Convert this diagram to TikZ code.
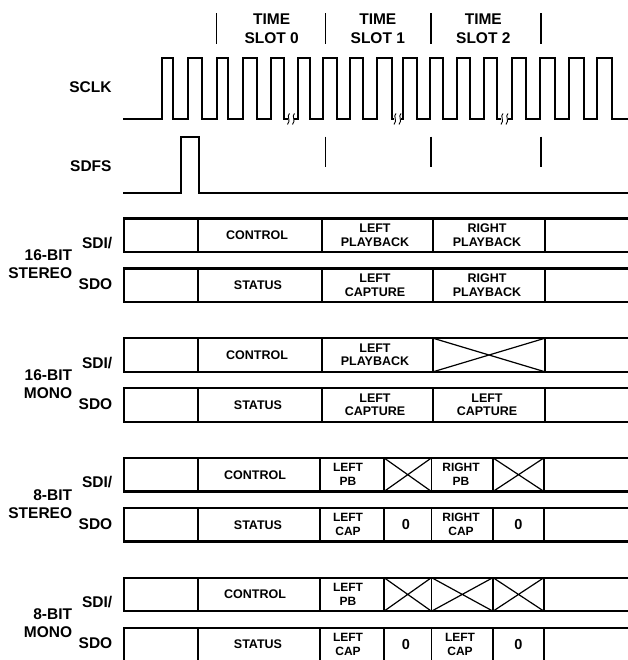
\documentclass[tikz,border=0pt]{standalone}
\usepackage{fontspec}
\setmainfont{Liberation Sans}
\newcommand\brkmark[1]{%
  \fill[white] (#1-3.2,116.5) rectangle (#1+3.2,121);
  \draw[line width=0.9pt] (#1-1.5,113.5) .. controls (#1-5,116.5) and (#1+0.5,120) .. (#1-3.5,124.5);
  \draw[line width=0.9pt] (#1+3.5,113.5) .. controls (#1,116.5) and (#1+5.5,120) .. (#1+1.5,124.5);
}
\newcommand\rowbox[2]{%
  \draw[hline] (630,#1) -- (124,#1) -- (124,#1+33.6) -- (630,#1+33.6);
  \foreach \xx in {#2} {\draw[vline] (\xx,#1) -- (\xx,#1+33.6);}
}
\newcommand\xcell[3]{%
  \draw[xline] (#1,#3) -- (#2,#3+33.6) (#1,#3+33.6) -- (#2,#3);
}
\begin{document}
\begin{tikzpicture}[x=1pt,y=-1pt,
  lbl/.style={font=\fontsize{15.5}{19.3}\selectfont\bfseries, inner sep=0pt},
  cell/.style={font=\fontsize{12.5}{13.3}\selectfont\bfseries, inner sep=0pt, align=center},
  scell/.style={font=\fontsize{12}{14}\selectfont\bfseries, inner sep=0pt, align=center},
  zero/.style={font=\fontsize{14.5}{16}\selectfont\bfseries, inner sep=0pt},
  hline/.style={line width=2.1pt, line join=miter},
  vline/.style={line width=1.6pt},
  wave/.style={line width=1.7pt, line join=miter},
  tick/.style={line width=1.3pt},
  xline/.style={line width=1.2pt}]
\useasboundingbox (0,0) rectangle (627,660);
\fill[white] (0,0) rectangle (627,660);

% time slot headers
\foreach \tx in {216.7,325.7,431,541} {\draw[tick] (\tx,13.3) -- (\tx,44);}
\node[lbl, align=center] (ts0) at (271.7,29) {TIME\\SLOT 0};
\node[lbl, align=center] (ts1) at (377.8,29) {TIME\\SLOT 1};
\node[lbl, align=center] (ts2) at (483.3,29) {TIME\\SLOT 2};

% SCLK
\node[lbl, anchor=east] (sclk) at (111.7,86.7) {SCLK};
\draw[wave] (123.3,118.7)
  -- (161.7,118.7) -- (161.7,58.3) -- (173.3,58.3) -- (173.3,118.7)
  -- (188.3,118.7) -- (188.3,58.3) -- (201.7,58.3) -- (201.7,118.7)
  -- (216.7,118.7) -- (216.7,58.3) -- (228.3,58.3) -- (228.3,118.7)
  -- (243.3,118.7) -- (243.3,58.3) -- (256.7,58.3) -- (256.7,118.7)
  -- (271,118.7) -- (271,58.3) -- (284.3,58.3) -- (284.3,118.7)
  -- (297.7,118.7) -- (297.7,58.3) -- (310,58.3) -- (310,118.7)
  -- (323.3,118.7) -- (323.3,58.3) -- (336.7,58.3) -- (336.7,118.7)
  -- (350,118.7) -- (350,58.3) -- (363.3,58.3) -- (363.3,118.7)
  -- (377.3,118.7) -- (377.3,58.3) -- (391.7,58.3) -- (391.7,118.7)
  -- (403.3,118.7) -- (403.3,58.3) -- (417.3,58.3) -- (417.3,118.7)
  -- (430,118.7) -- (430,58.3) -- (443.3,58.3) -- (443.3,118.7)
  -- (456.7,118.7) -- (456.7,58.3) -- (470,58.3) -- (470,118.7)
  -- (484,118.7) -- (484,58.3) -- (497.3,58.3) -- (497.3,118.7)
  -- (511.7,118.7) -- (511.7,58.3) -- (525.7,58.3) -- (525.7,118.7)
  -- (540,118.7) -- (540,58.3) -- (555,58.3) -- (555,118.7)
  -- (569.3,118.7) -- (569.3,58.3) -- (584,58.3) -- (584,118.7)
  -- (597.3,118.7) -- (597.3,58.3) -- (611.7,58.3) -- (611.7,118.7)
  -- (630,118.7);
\brkmark{291}
\brkmark{397.5}
\brkmark{504.5}

% SDFS
\node[lbl, anchor=east] (sdfs) at (111.7,166) {SDFS};
\foreach \tx in {325.7,431,541} {\draw[tick] (\tx,136.7) -- (\tx,166.7);}
\draw[wave] (123.3,192.7) -- (181,192.7) -- (181,137.3) -- (199,137.3) -- (199,192.7) -- (630,192.7);

% ---------- 16-bit stereo ----------
\rowbox{218.5}{198,322,433,545}
\rowbox{268.5}{198,322,433,545}
\node[lbl, anchor=east] (s16sdi) at (112.5,243.1) {SDI/};
\node[lbl, anchor=east] (s16a) at (72.3,255.5) {16-BIT};
\node[lbl, anchor=east] (s16b) at (72.3,273.5) {STEREO};
\node[lbl, anchor=east] (s16sdo) at (112.5,284.5) {SDO};
\node[cell] (c1) at (257,235.3) {CONTROL};
\node[cell] (c2) at (375,235.3) {LEFT\\PLAYBACK};
\node[cell] (c3) at (487,235.3) {RIGHT\\PLAYBACK};
\node[cell] (c4) at (258,285.3) {STATUS};
\node[cell] (c5) at (375,285.3) {LEFT\\CAPTURE};
\node[cell] (c6) at (487,285.3) {RIGHT\\PLAYBACK};

% ---------- 16-bit mono ----------
\rowbox{338.2}{198,322,433,545}
\rowbox{388.2}{198,322,433,545}
\xcell{433}{545}{338.2}
\node[lbl, anchor=east] (m16sdi) at (112.5,362.8) {SDI/};
\node[lbl, anchor=east] (m16a) at (72.3,375.2) {16-BIT};
\node[lbl, anchor=east] (m16b) at (72.3,393.2) {MONO};
\node[lbl, anchor=east] (m16sdo) at (112.5,404.2) {SDO};
\node[cell] (d1) at (257,355.0) {CONTROL};
\node[cell] (d2) at (375,355.0) {LEFT\\PLAYBACK};
\node[cell] (d4) at (258,405.0) {STATUS};
\node[cell] (d5) at (375,405.0) {LEFT\\CAPTURE};
\node[cell] (d6) at (487,405.0) {LEFT\\CAPTURE};

% ---------- 8-bit stereo ----------
\rowbox{457.9}{198,320,384,431.5,493,544}
\rowbox{507.9}{198,320,384,431.5,493,544}
\xcell{384}{431.5}{457.9}
\xcell{493}{544}{457.9}
\node[lbl, anchor=east] (s8sdi) at (112.5,482.5) {SDI/};
\node[lbl, anchor=east] (s8a) at (72.3,494.9) {8-BIT};
\node[lbl, anchor=east] (s8b) at (72.3,512.9) {STEREO};
\node[lbl, anchor=east] (s8sdo) at (112.5,523.9) {SDO};
\node[cell] (e1) at (255,474.7) {CONTROL};
\node[scell] (e2) at (348,474.7) {LEFT\\PB};
\node[scell] (e3) at (461,474.7) {RIGHT\\PB};
\node[cell] (e4) at (258,524.7) {STATUS};
\node[scell] (e5) at (348,524.7) {LEFT\\CAP};
\node[zero] (e6) at (406,524.7) {0};
\node[scell] (e7) at (461,524.7) {RIGHT\\CAP};
\node[zero] (e8) at (518.5,524.7) {0};

% ---------- 8-bit mono ----------
\rowbox{577.6}{198,320,384,431.5,493,544}
\rowbox{627.6}{198,320,384,431.5,493,544}
\xcell{384}{431.5}{577.6}
\xcell{431.5}{493}{577.6}
\xcell{493}{544}{577.6}
\node[lbl, anchor=east] (m8sdi) at (112.5,602.2) {SDI/};
\node[lbl, anchor=east] (m8a) at (72.3,614.6) {8-BIT};
\node[lbl, anchor=east] (m8b) at (72.3,632.6) {MONO};
\node[lbl, anchor=east] (m8sdo) at (112.5,643.6) {SDO};
\node[cell] (f1) at (255,594.4) {CONTROL};
\node[scell] (f2) at (348,594.4) {LEFT\\PB};
\node[cell] (f4) at (258,644.4) {STATUS};
\node[scell] (f5) at (348,644.4) {LEFT\\CAP};
\node[zero] (f6) at (406,644.4) {0};
\node[scell] (f7) at (460,644.4) {LEFT\\CAP};
\node[zero] (f8) at (518.5,644.4) {0};
\end{tikzpicture}
\end{document}
